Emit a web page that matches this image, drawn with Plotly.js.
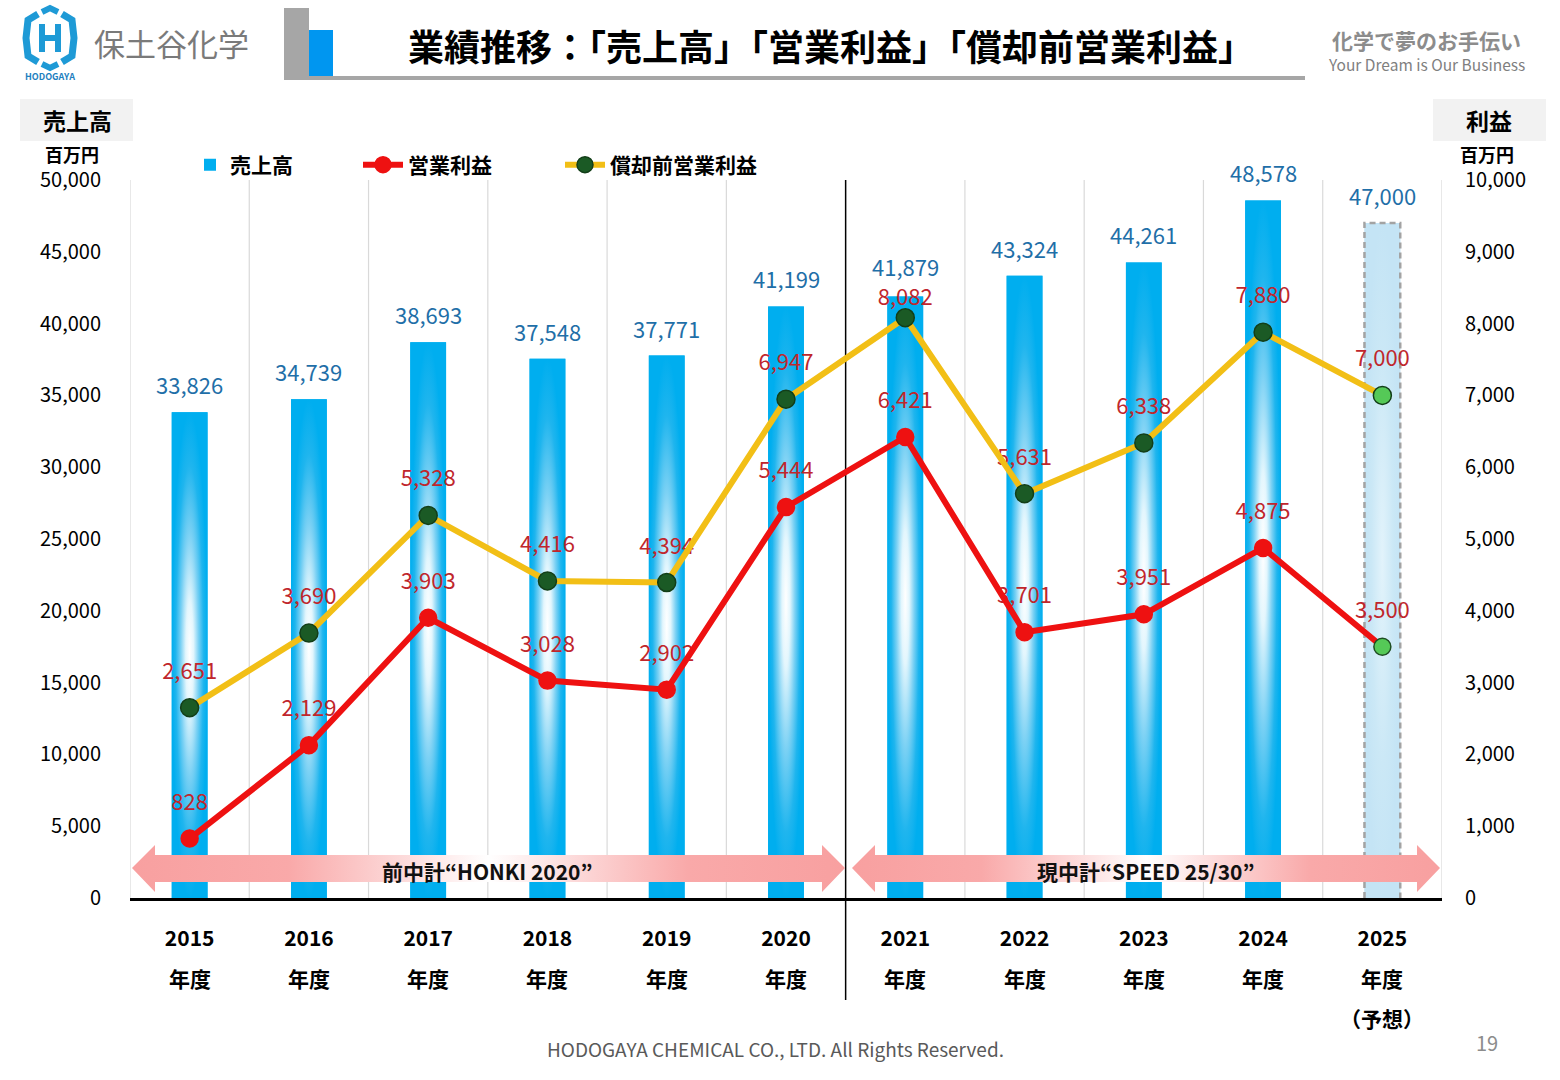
<!DOCTYPE html>
<html>
<head>
<meta charset="utf-8">
<script src="https://cdn.plot.ly/plotly-3.0.1.min.js"></script>
<style>
  html, body { margin: 0; padding: 0; background: #ffffff; }
  #chart { width: 1560px; height: 1080px; }
</style>
</head>
<body>
<div id="chart"></div>
<script>
// ---- data (百万円) ----
const years = ['2015', '2016', '2017', '2018', '2019', '2020', '2021', '2022', '2023', '2024', '2025'];
const yearSuffix = '年度';
const forecastNote = '（予想）';
const sales = [33826, 34739, 38693, 37548, 37771, 41199, 41879, 43324, 44261, 48578, 47000];
const operatingProfit = [828, 2129, 3903, 3028, 2902, 5444, 6421, 3701, 3951, 4875, 3500];
const ebitda = [2651, 3690, 5328, 4416, 4394, 6947, 8082, 5631, 6338, 7880, 7000];
const forecastIndex = 10;
const planNames = ['前中計“HONKI 2020”', '現中計“SPEED 25/30”'];

// ---- page geometry ----
const FONT = "'Noto Sans CJK JP', 'Noto Sans', sans-serif";
const W = 1560, H = 1080;
const M = { l: 130, r: 118, t: 180, b: 182 };
const PW = W - M.l - M.r, PH = H - M.t - M.b;
const fx = p => (p - M.l) / PW;            // page px -> paper x
const fy = p => (H - M.b - p) / PH;        // page px -> paper y
const X_RANGE = [-0.5, 10.5];
const Y_MAX = 50000, Y2_MAX = 10000;
const xd = p => X_RANGE[0] + (p - M.l) / PW * (X_RANGE[1] - X_RANGE[0]);  // px -> x data
const yd = p => (H - M.b - p) / PH * Y_MAX;                                // px -> left-axis data

const xIdx = years.map((_, i) => i);
const fmt = v => v.toLocaleString('en-US');
const BAR_W = 0.30;

const SALES_BLUE = '#00AEEF';
const FORECAST_BLUE = '#C4E4F5';
const RED = '#EE1111';
const YELLOW = '#F2BF16';
const DARK_GREEN = '#1B5A25';
const LIGHT_GREEN = '#55C957';
const LABEL_RED = '#C0262C';
const LABEL_BLUE = '#1F6FA8';

const glowActual = [[0, '#FFFFFF'], [0.22, '#E3F6FD'], [0.5, '#7BD1F4'], [0.78, '#1FB5EE'], [1, SALES_BLUE]];
const glowForecast = [[0, '#E2F3FB'], [0.6, '#CBE8F6'], [1, FORECAST_BLUE]];

const traces = [];

// sales bars
traces.push({
  type: 'bar', name: '売上高', x: xIdx, y: sales, width: BAR_W,
  marker: { color: xIdx.map(i => i === forecastIndex ? FORECAST_BLUE : SALES_BLUE), line: { width: 0 } },
  legend: 'legend', hoverinfo: 'y'
});

// soft glow on every sales bar
xIdx.forEach(i => {
  const h = BAR_W / 2, v = sales[i];
  traces.push({
    type: 'scatter', mode: 'none', x: [i - h, i + h, i + h, i - h, i - h], y: [0, 0, v, v, 0],
    fill: 'toself', fillcolor: SALES_BLUE,
    fillgradient: { type: 'radial', colorscale: i === forecastIndex ? glowForecast : glowActual },
    hoverinfo: 'skip', showlegend: false
  });
});

// dashed outline on the forecast bar
(function () {
  const i = forecastIndex, h = BAR_W / 2, v = sales[i];
  traces.push({
    type: 'scatter', mode: 'lines', x: [i - h, i - h, i + h, i + h], y: [0, v, v, 0],
    line: { color: '#A3A3A3', width: 2.5, dash: '6px,4px' },
    hoverinfo: 'skip', showlegend: false
  });
})();

// mid-term plan arrows
function arrowTrace(p0, p1) {
  const hl = 23;
  const yMid = 868, bTop = 855, bBot = 882, hTop = 845, hBot = 892;
  const xs = [p0, p0 + hl, p0 + hl, p1 - hl, p1 - hl, p1, p1 - hl, p1 - hl, p0 + hl, p0 + hl, p0].map(xd);
  const ys = [yMid, hTop, bTop, bTop, hTop, yMid, hBot, bBot, bBot, hBot, yMid].map(yd);
  return {
    type: 'scatter', mode: 'none', x: xs, y: ys, fill: 'toself', fillcolor: '#F9A3A3',
    fillgradient: {
      type: 'horizontal', start: xd(p0), stop: xd(p1),
      colorscale: [[0, '#F8A0A0'], [0.22, '#F9A9A9'], [0.5, '#FFFFFF'], [0.78, '#F9A9A9'], [1, '#F8A0A0']]
    },
    hoverinfo: 'skip', showlegend: false
  };
}
traces.push(arrowTrace(132, 845));
traces.push(arrowTrace(852, 1440));

// value labels for the profit lines (drawn under the lines)
const labelLift = 36;
const ebitdaLift = ebitda.map((_, i) => i === 6 ? 10 : labelLift);
[[operatingProfit, operatingProfit.map(() => labelLift)], [ebitda, ebitdaLift]].forEach(([vals, lift]) => {
  traces.push({
    type: 'scatter', mode: 'markers+text', x: xIdx, y: vals, yaxis: 'y2',
    text: vals.map(fmt), textposition: 'top center',
    textfont: { family: FONT, size: 22, color: LABEL_RED },
    marker: { size: lift, color: 'rgba(0,0,0,0)', opacity: 0, line: { width: 0, color: 'rgba(0,0,0,0)' } },
    cliponaxis: false, hoverinfo: 'skip', showlegend: false
  });
});

// operating profit
traces.push({
  type: 'scatter', mode: 'lines+markers', name: '営業利益', x: xIdx, y: operatingProfit, yaxis: 'y2',
  line: { color: RED, width: 6 },
  marker: {
    size: 17,
    color: xIdx.map(i => i === forecastIndex ? LIGHT_GREEN : RED),
    line: { color: xIdx.map(i => i === forecastIndex ? '#1E4D22' : RED), width: 1.5 }
  },
  cliponaxis: false, legend: 'legend2', hoverinfo: 'y'
});

// profit before depreciation
traces.push({
  type: 'scatter', mode: 'lines+markers', name: '償却前営業利益', x: xIdx, y: ebitda, yaxis: 'y2',
  line: { color: YELLOW, width: 6 },
  marker: {
    size: 18,
    color: xIdx.map(i => i === forecastIndex ? LIGHT_GREEN : DARK_GREEN),
    line: { color: '#123E18', width: 1.5 }
  },
  cliponaxis: false, legend: 'legend3', hoverinfo: 'y'
});

// ---- annotations ----
const annotations = [];
const pageText = (xp, yp, text, size, color, weight, xanchor) => annotations.push({
  xref: 'paper', yref: 'paper', x: fx(xp), y: fy(yp), text, showarrow: false,
  xanchor: xanchor || 'center', yanchor: 'middle',
  font: { family: FONT, size, color, weight: weight || 'normal' }
});

// sales values above the bars
const salesLift = sales.map((_, i) => i === 6 ? 31 : 28);
xIdx.forEach(i => annotations.push({
  xref: 'x', yref: 'y', x: i, y: sales[i], yshift: salesLift[i], text: fmt(sales[i]), showarrow: false,
  xanchor: 'center', yanchor: 'middle', borderpad: 0,
  font: { family: FONT, size: 22, color: LABEL_BLUE }
}));

// second / third lines of the category labels
xIdx.forEach(i => {
  annotations.push({
    xref: 'x', yref: 'paper', x: i, y: fy(978), text: yearSuffix, showarrow: false,
    xanchor: 'center', yanchor: 'middle', font: { family: FONT, size: 21, color: '#000', weight: 'bold' }
  });
});
annotations.push({
  xref: 'x', yref: 'paper', x: forecastIndex, y: fy(1018), text: forecastNote, showarrow: false,
  xanchor: 'center', yanchor: 'middle', font: { family: FONT, size: 21, color: '#000', weight: 'bold' }
});

// plan names on the arrows
annotations.push({ xref: 'x', yref: 'paper', x: xd(487), y: fy(871), text: planNames[0], showarrow: false,
  xanchor: 'center', yanchor: 'middle', font: { family: FONT, size: 21, color: '#111', weight: 'bold' } });
annotations.push({ xref: 'x', yref: 'paper', x: xd(1146), y: fy(871), text: planNames[1], showarrow: false,
  xanchor: 'center', yanchor: 'middle', font: { family: FONT, size: 21, color: '#111', weight: 'bold' } });

// header, axis captions, footer
pageText(831, 45, '業績推移：「売上高」「営業利益」「償却前営業利益」', 36, '#000', 'bold');
pageText(171, 42, '保土谷化学', 31, '#7A7A7A', 'normal');
pageText(50, 77, 'HODOGAYA', 9, '#1E7FC0', 'bold');
pageText(1426, 40, '化学で夢のお手伝い', 21, '#8C8C8C', 'bold');
pageText(1426, 64, 'Your Dream is Our Business', 15.5, '#7F7F7F', 'normal');
pageText(77, 120, '売上高', 23, '#000', 'bold');
pageText(1489, 120, '利益', 23, '#000', 'bold');
pageText(72, 154, '百万円', 18, '#000', 'bold');
pageText(1487, 154, '百万円', 18, '#000', 'bold');
pageText(775, 1048, 'HODOGAYA CHEMICAL CO., LTD. All Rights Reserved.', 19, '#595959', 'normal');
pageText(1487, 1042, '19', 20, '#8C8C8C', 'normal');

// ---- shapes ----
const shapes = [];
// category separators
for (let k = 0; k <= years.length; k++) {
  const xv = k - 0.5;
  if (xv === 5.5) continue;
  shapes.push({ type: 'line', xref: 'x', yref: 'paper', x0: xv, x1: xv, y0: 0, y1: 1,
    line: { color: '#D9D9D9', width: 1.2 }, layer: 'below' });
}
// divider between the two plans
shapes.push({ type: 'line', xref: 'x', yref: 'paper', x0: 5.5, x1: 5.5, y0: fy(1000), y1: 1,
  line: { color: '#000', width: 1.5 }, layer: 'below' });

const rectPx = (x0, y0, x1, y1, color) => shapes.push({
  type: 'rect', xref: 'paper', yref: 'paper', x0: fx(x0), x1: fx(x1), y0: fy(y1), y1: fy(y0),
  fillcolor: color, line: { width: 0 }, layer: 'above'
});
// title decoration
rectPx(284, 8, 309, 80, '#A6A6A6');
rectPx(309, 30, 333, 78, '#0096F0');
rectPx(284, 76, 1305, 80, '#A6A6A6');
// axis caption boxes
rectPx(20, 99, 133, 141, '#F2F2F2');
rectPx(1433, 99, 1546, 141, '#F2F2F2');

// logo mark
const pathPx = pts => 'M' + pts.map(p => fx(p[0]) + ',' + fy(p[1])).join('L');
const logoLine = (pts, w) => shapes.push({ type: 'path', xref: 'paper', yref: 'paper',
  path: pathPx(pts), line: { color: '#1E9AD6', width: w }, layer: 'above' });
logoLine([[38, 14], [28, 20], [26, 38], [28, 56], [38, 62]], 7);
logoLine([[62, 14], [72, 20], [74, 38], [72, 56], [62, 62]], 7);
logoLine([[42, 12], [50, 8], [58, 12]], 6);
logoLine([[42, 64], [50, 68], [58, 64]], 6);
logoLine([[42, 24], [42, 52]], 6);
logoLine([[58, 24], [58, 52]], 6);
logoLine([[42, 38], [58, 38]], 6);

// ---- layout ----
const tickFont = { family: FONT, size: 20, color: '#000' };
const legendBase = {
  orientation: 'h', xanchor: 'left', yanchor: 'middle', y: fy(165),
  font: { family: FONT, size: 21, color: '#000', weight: 'bold' },
  bgcolor: 'rgba(0,0,0,0)', borderwidth: 0
};

const layout = {
  width: W, height: H,
  margin: { l: M.l, r: M.r, t: M.t, b: M.b, pad: 0 },
  paper_bgcolor: '#ffffff', plot_bgcolor: '#ffffff',
  font: { family: FONT, color: '#000' },
  barmode: 'overlay',
  showlegend: true,
  legend: Object.assign({}, legendBase, { x: fx(190) }),
  legend2: Object.assign({}, legendBase, { x: fx(358), itemwidth: 40 }),
  legend3: Object.assign({}, legendBase, { x: fx(560), itemwidth: 40 }),
  xaxis: {
    type: 'linear', range: X_RANGE, tickmode: 'array', tickvals: xIdx, ticktext: years,
    tickfont: { family: FONT, size: 21, color: '#000', weight: 'bold' },
    ticks: '', ticklabelstandoff: 20,
    showgrid: false, zeroline: false,
    showline: true, linecolor: '#000', linewidth: 3, fixedrange: true
  },
  yaxis: {
    range: [0, Y_MAX], tickmode: 'linear', tick0: 0, dtick: 5000, tickformat: ',d',
    tickfont: tickFont, ticks: '', ticklabelstandoff: 28,
    showgrid: false, zeroline: false, showline: false, fixedrange: true
  },
  yaxis2: {
    overlaying: 'y', side: 'right', anchor: 'x',
    range: [0, Y2_MAX], tickmode: 'linear', tick0: 0, dtick: 1000, tickformat: ',d',
    tickfont: tickFont, ticks: '', ticklabelstandoff: 22,
    showgrid: false, zeroline: false, showline: false, fixedrange: true
  },
  shapes, annotations
};

Plotly.newPlot('chart', traces, layout, { displayModeBar: false, staticPlot: true });
</script>
</body>
</html>
